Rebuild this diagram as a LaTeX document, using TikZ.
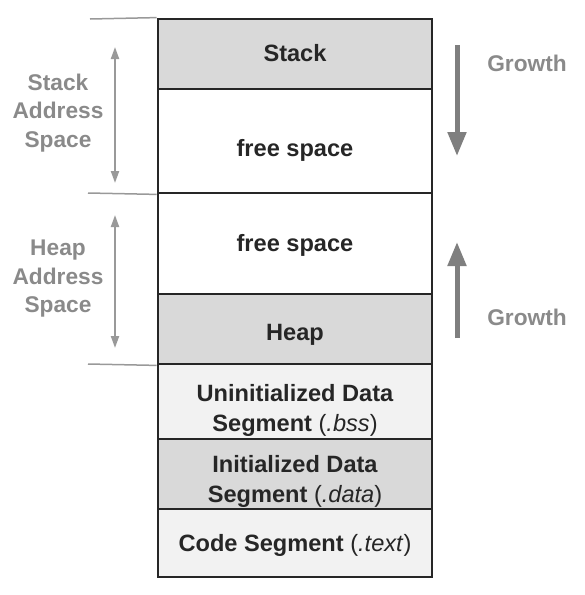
\documentclass[tikz,border=0pt]{standalone}
\usepackage{fontspec}
\setmainfont{Liberation Sans}
\usetikzlibrary{arrows.meta}
\definecolor{segdark}{HTML}{D9D9D9}
\definecolor{seglight}{HTML}{F2F2F2}
\definecolor{labelgray}{HTML}{8A8A8A}
\definecolor{arrowgray}{HTML}{7F7F7F}

\begin{document}
\begin{tikzpicture}[x=1pt,y=-1pt,
		seg/.style={draw=black!85,line width=2.8pt,minimum width=274pt,inner sep=0pt},
		segtext/.style={align=center,text=black!85,font=\fontsize{23.6}{30}\selectfont\bfseries},
		sidelabel/.style={align=center,text=labelgray,font=\fontsize{22.7}{28.5}\selectfont\bfseries},
		guideline/.style={draw=black!40,line width=1.5pt},
		spanarrow/.style={draw=black!40,line width=2pt,%
			{Triangle[width=8pt,length=12pt]}-{Triangle[width=8pt,length=12pt]}},
		growarrow/.style={draw=arrowgray,line width=5pt,-{Triangle[width=18pt,length=24pt]}}]
			\useasboundingbox (0,0) rectangle (585,595);
			
			\node[seg,fill=segdark,minimum height=70pt] (stack) at (295,54) {};
			\node[seg,fill=white,minimum height=104pt] (free1) at (295,141) {};
			\node[seg,fill=white,minimum height=101pt] (free2) at (295,243.5) {};
			\node[seg,fill=segdark,minimum height=70pt] (heap) at (295,329) {};
			\node[seg,fill=seglight,minimum height=75pt] (bss) at (295,401.5) {};
			\node[seg,fill=segdark,minimum height=70pt] (data) at (295,474) {};
			\node[seg,fill=seglight,minimum height=68pt] (text) at (295,543) {};
			
			\node[segtext] (stacktext) at (295,53) {Stack};
			\node[segtext] (free1text) at (295,150) {free space};
			\node[segtext] (free2text) at (295,245.5) {free space};
			\node[segtext] (heaptext) at (295,335) {Heap};
			\node[segtext] (bsstext) at (295,410) {Uninitialized Data\\Segment \textmd{(\textit{.bss})}};
			\node[segtext] (datatext) at (295,481) {Initialized Data\\Segment \textmd{(\textit{.data})}};
			\node[segtext] (codetext) at (295,545) {Code Segment \textmd{(\textit{.text})}};
			
			\coordinate (stacktop) at (90,19);
			\coordinate (stackend) at (88,193);
			\coordinate (heapend) at (88,364);
			\draw[guideline] (stacktop) -- (stack.north west);
			\draw[guideline] (stackend) -- (free1.south west);
			\draw[guideline] (heapend) -- (heap.south west);
			
			\coordinate (sa) at (115,47);
			\coordinate (sb) at (115,183);
			\coordinate (ha) at (115,215);
			\coordinate (hb) at (115,348);
			\draw[spanarrow] (sa) -- (sb);
			\draw[spanarrow] (ha) -- (hb);
			\node[sidelabel] (stacklabel) at (58,113) {Stack\\Address\\Space};
			\node[sidelabel] (heaplabel) at (58,279) {Heap\\Address\\Space};
			
			\coordinate (ga) at (457,45);
			\coordinate (gb) at (457,156);
			\coordinate (gc) at (457,338);
			\coordinate (gd) at (457,242);
			\draw[growarrow] (ga) -- (gb);
			\draw[growarrow] (gc) -- (gd);
			\node[sidelabel] (growdown) at (527,63) {Growth};
			\node[sidelabel] (growup) at (527,317) {Growth};
		\end{tikzpicture}
\end{document}
